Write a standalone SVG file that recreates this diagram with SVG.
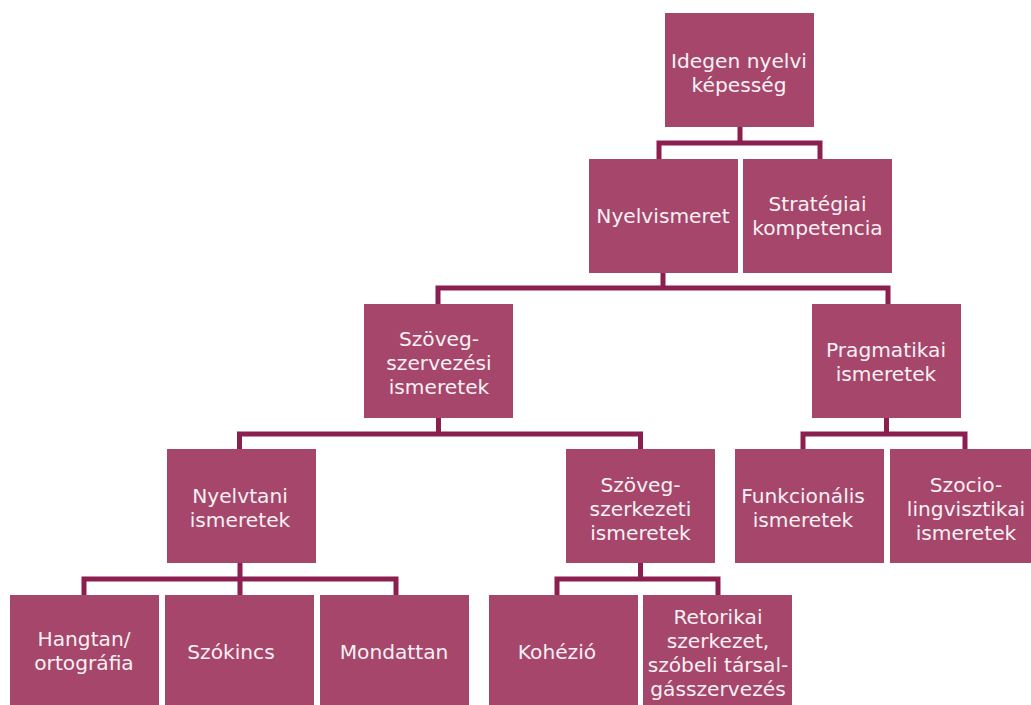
<svg xmlns="http://www.w3.org/2000/svg" width="1031" height="705" viewBox="0 0 1031 705">
<style>
.box{fill:#A5466A;}
.lbl{font-family:"DejaVu Sans","Verdana",sans-serif;font-size:20.2px;fill:#FAF0F4;text-anchor:middle;}
.conn{fill:none;stroke:#8B1F4F;stroke-width:5;stroke-linejoin:miter;stroke-linecap:butt;}
</style>
<rect width="1031" height="705" fill="#FFFFFF"/>
<g id="connectors">
<path class="conn" d="M740 127 V143 H659 V159 M740 143 H820 V159"/>
<path class="conn" d="M663 273 V288 H438 V304 M663 288 H888 V304"/>
<path class="conn" d="M438.5 418 V434 H239.5 V449 M438.5 434 H640.5 V449"/>
<path class="conn" d="M886.5 418 V434 H803 V449 M886.5 434 H965 V449"/>
<path class="conn" d="M240 563 V579 H84 V595 M240 579 V595 M240 579 H396 V595"/>
<path class="conn" d="M640.5 563 V579 H557 V595 M640.5 579 H718 V595"/>
</g>
<g id="n-root"><rect class="box" x="665" y="13" width="149" height="114"/>
<text class="lbl" x="739" y="68">Idegen nyelvi</text><text class="lbl" x="739" y="92">képesség</text></g>
<g id="n-nyelvismeret"><rect class="box" x="589" y="159" width="149" height="114"/>
<text class="lbl" x="663" y="223">Nyelvismeret</text></g>
<g id="n-strategiai"><rect class="box" x="743" y="159" width="149" height="114"/>
<text class="lbl" x="817.5" y="211">Stratégiai</text><text class="lbl" x="817.5" y="235">kompetencia</text></g>
<g id="n-szovegszervezesi"><rect class="box" x="364" y="304" width="149" height="114"/>
<text class="lbl" x="439" y="346">Szöveg-</text><text class="lbl" x="439" y="370">szervezési</text><text class="lbl" x="439" y="394">ismeretek</text></g>
<g id="n-pragmatikai"><rect class="box" x="812" y="304" width="149" height="114"/>
<text class="lbl" x="886" y="357">Pragmatikai</text><text class="lbl" x="886" y="381">ismeretek</text></g>
<g id="n-nyelvtani"><rect class="box" x="167" y="449" width="149" height="114"/>
<text class="lbl" x="240" y="503">Nyelvtani</text><text class="lbl" x="240" y="527">ismeretek</text></g>
<g id="n-szovegszerkezeti"><rect class="box" x="566" y="449" width="149" height="114"/>
<text class="lbl" x="640.5" y="492">Szöveg-</text><text class="lbl" x="640.5" y="516">szerkezeti</text><text class="lbl" x="640.5" y="540">ismeretek</text></g>
<g id="n-funkcionalis"><rect class="box" x="735" y="449" width="149" height="114"/>
<text class="lbl" x="803" y="503">Funkcionális</text><text class="lbl" x="803" y="527">ismeretek</text></g>
<g id="n-szocio"><rect class="box" x="890" y="449" width="149" height="114"/>
<text class="lbl" x="966" y="492">Szocio-</text><text class="lbl" x="966" y="516">lingvisztikai</text><text class="lbl" x="966" y="540">ismeretek</text></g>
<g id="n-hangtan"><rect class="box" x="10" y="595" width="149" height="114"/>
<text class="lbl" x="84" y="646">Hangtan/</text><text class="lbl" x="84" y="670">ortográfia</text></g>
<g id="n-szokincs"><rect class="box" x="165" y="595" width="149" height="114"/>
<text class="lbl" x="231" y="659">Szókincs</text></g>
<g id="n-mondattan"><rect class="box" x="320" y="595" width="149" height="114"/>
<text class="lbl" x="394" y="659">Mondattan</text></g>
<g id="n-kohezio"><rect class="box" x="489" y="595" width="149" height="114"/>
<text class="lbl" x="557" y="659">Kohézió</text></g>
<g id="n-retorikai"><rect class="box" x="643" y="595" width="149" height="114"/>
<text class="lbl" x="718" y="624">Retorikai</text><text class="lbl" x="718" y="648">szerkezet,</text><text class="lbl" x="718" y="672">szóbeli társal-</text><text class="lbl" x="718" y="696">gásszervezés</text></g>
</svg>
